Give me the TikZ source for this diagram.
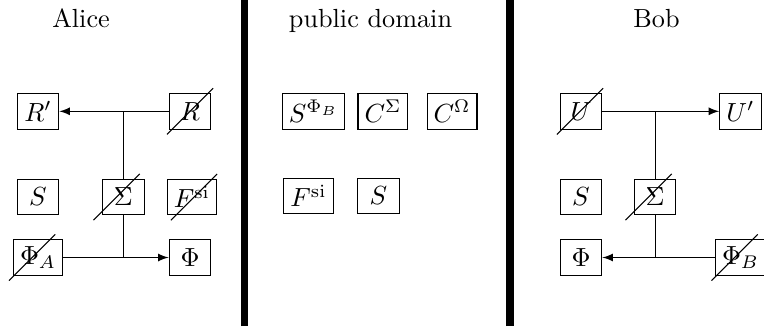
\documentclass[tikz,border=0pt]{standalone}
\usetikzlibrary{arrows}

\begin{document}
\begin{tikzpicture}[>=latex, box/.style={draw, minimum width=0.56cm, minimum height=0.48cm, inner sep=2.5pt}, title/.style={anchor=base}, wall/.style={line width=1mm}]
\useasboundingbox (0,0) rectangle (10.248,4.373);
\draw[wall] (3.28,0) -- (3.28,4.373);
\draw[wall] (6.841,0) -- (6.841,4.373);
\node[title] (alice) at (1.087,4) {Alice};
\node[title] (pub) at (4.97,4) {public domain};
\node[title] (bob) at (8.806,4) {Bob};
% Alice
\node[box] (aRp) at (0.51,2.88) {$R'$};
\node[box] (aR) at (2.549,2.88) {$R$};
\node[box] (aS) at (0.51,1.73) {$S$};
\node[box] (aSig) at (1.654,1.73) {$\Sigma$};
\node[box] (aF) at (2.575,1.73) {$F^{\mathrm{si}}$};
\node[box] (aPhiA) at (0.51,0.919) {$\Phi_A$};
\node[box] (aPhi) at (2.549,0.919) {$\Phi$};
\draw[->] (aR) -- (aRp);
\draw (aSig) -- (aSig |- aR);
\draw[->] (aPhiA) -- (aPhi);
\draw (aSig) -- (aSig |- aPhi);
% public domain
\node[box] (pSPhi) at (4.205,2.88) {$S^{\Phi_B}$};
\node[box] (pCSig) at (5.137,2.88) {$C^{\Sigma}$};
\node[box] (pCOm) at (6.063,2.88) {$C^{\Omega}$};
\node[box] (pF) at (4.138,1.744) {$F^{\mathrm{si}}$};
\node[box] (pS) at (5.077,1.744) {$S$};
% Bob
\node[box] (bU) at (7.793,2.88) {$U$};
\node[box] (bUp) at (9.933,2.88) {$U'$};
\node[box] (bS) at (7.793,1.73) {$S$};
\node[box] (bSig) at (8.786,1.73) {$\Sigma$};
\node[box] (bPhi) at (7.793,0.919) {$\Phi$};
\node[box] (bPhiB) at (9.933,0.919) {$\Phi_B$};
\draw[->] (bU) -- (bUp);
\draw (bSig) -- (bSig |- bU);
\draw[->] (bPhiB) -- (bPhi);
\draw (bSig) -- (bSig |- bPhi);
% crossed out
\foreach \n/\d in {aR/0, aSig/-0.089, aF/0.027, aPhiA/-0.08, bU/-0.013, bSig/-0.085, bPhiB/-0.08}
  \draw ([shift={(\d-0.31,-0.31)}]\n.center) -- ([shift={(\d+0.31,0.31)}]\n.center);
\end{tikzpicture}
\end{document}
